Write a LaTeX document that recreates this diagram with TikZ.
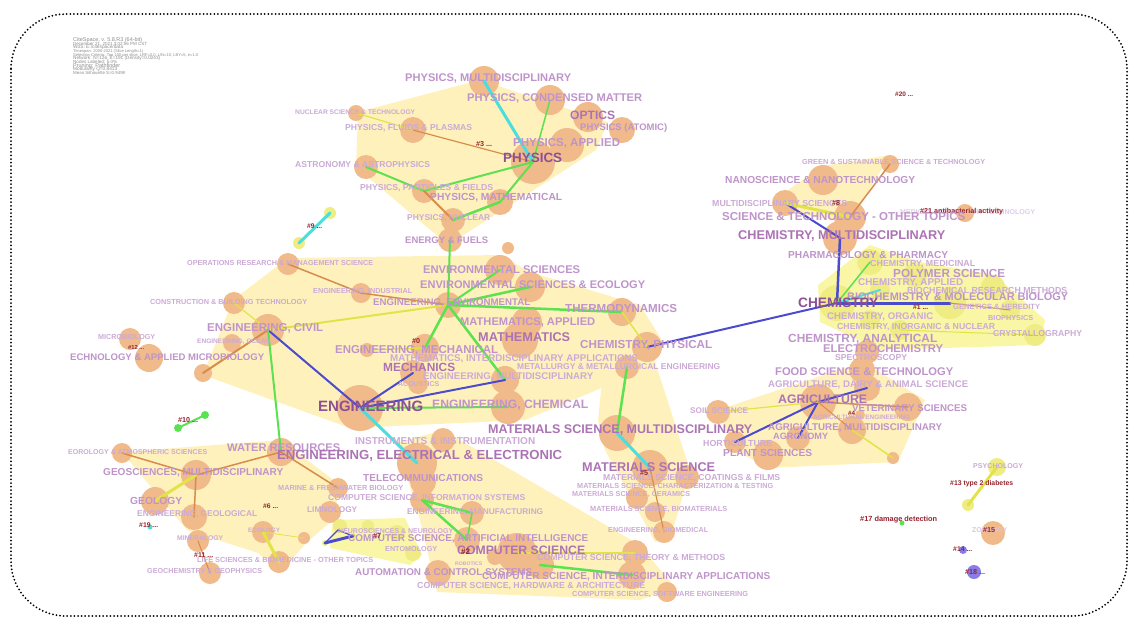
\documentclass[tikz,border=0pt]{standalone}
\usepackage{fontspec}
\usepackage{graphicx}
\newfontfamily\labfont{Liberation Sans}
\definecolor{nodeor}{RGB}{241,186,139}
\definecolor{nodeye}{RGB}{238,236,130}
\definecolor{nodebl}{RGB}{135,125,235}
\definecolor{hullye}{RGB}{255,241,188}
\definecolor{hullch}{RGB}{249,246,165}
\definecolor{labA}{RGB}{203,170,214}
\definecolor{labB}{RGB}{190,148,202}
\definecolor{labC}{RGB}{172,115,180}
\definecolor{labD}{RGB}{142,80,148}
\definecolor{clred}{RGB}{150,35,45}
\definecolor{egreen}{RGB}{90,226,80}
\definecolor{ecyan}{RGB}{75,222,222}
\definecolor{eblue}{RGB}{75,75,205}
\definecolor{eyellow}{RGB}{225,228,70}
\definecolor{eorange}{RGB}{215,140,75}
\newcommand{\fitw}[2]{\resizebox{#1pt}{!}{#2}}
\tikzset{
  bub/.style={circle,fill=nodeor,inner sep=0pt,minimum size=#1*2pt},
  ybub/.style={circle,fill=nodeye,inner sep=0pt,minimum size=#1*2pt},
  hull/.style={fill=hullye},
  lbl/.style={anchor=west,inner sep=0pt,font=\labfont\bfseries,text=labA},
  clu/.style={anchor=west,inner sep=0pt,font=\labfont\bfseries,text=clred},
  info/.style={anchor=west,inner sep=0pt,font=\labfont,text=black!45},
  lnk/.style={line width=#1pt,line cap=round},
}
\begin{document}
\begin{tikzpicture}[x=1pt,y=-1pt]
\useasboundingbox (0,0) rectangle (1134,625);
\draw[line width=2pt,line cap=round,dash pattern=on 0pt off 3.6pt,rounded corners=55pt] (11,14) rectangle (1127,616);

% run info
\node[info] (inf1) at (73,40) {\fitw{69}{CiteSpace, v. 5.8.R3 (64-bit)}};
\node[info] (inf2) at (73,44) {\fitw{74}{December 21, 2021 3:02:56 PM CST}};
\node[info] (inf3) at (73,47.5) {\fitw{50}{WoS: E:/citespace/data}};
\node[info] (inf4) at (73,51) {\fitw{70}{Timespan: 2000-2021 (Slice Length=1)}};
\node[info] (inf5) at (73,55) {\fitw{125}{Selection Criteria: Top 100 per slice, LRF=3.0, L/N=10, LBY=5, e=1.0}};
\node[info] (inf6) at (73,58.5) {\fitw{87}{Network: N=126, E=191 (Density=0.0243)}};
\node[info] (inf7) at (73,62) {\fitw{44}{Nodes Labeled: 5.0\%}};
\node[info] (inf8) at (73,66) {\fitw{47}{Pruning: Pathfinder}};
\node[info] (inf9) at (73,69.5) {\fitw{44}{Modularity Q=0.8413}};
\node[info] (inf10) at (73,73) {\fitw{52}{Mean Silhouette S=0.9498}};

% cluster hulls
\fill[hull] (358,112)--(480,80)--(608,122)--(596,150)--(448,245)--(356,167)--cycle;
\fill[hull] (203,375)--(233,300)--(288,258)--(500,255)--(530,272)--(640,305)--(665,345)--(640,372)--(525,420)--(350,428)--cycle;
\fill[hull] (610,305)--(636,303)--(690,470)--(670,540)--(655,542)--(605,450)--(598,420)--cycle;
\fill[hull] (397,443)--(443,430)--(640,545)--(675,588)--(640,600)--(437,592)--(420,520)--cycle;
\fill[hull] (122,452)--(281,440)--(340,485)--(333,520)--(307,542)--(281,572)--(258,553)--(187,530)--cycle;
\fill[hull] (718,410)--(863,362)--(925,400)--(898,462)--(768,468)--(735,450)--cycle;
\fill[hull] (785,192)--(823,166)--(890,155)--(850,222)--(785,212)--cycle;
\fill[hullch] (818,285)--(870,245)--(920,262)--(995,275)--(1045,320)--(1040,345)--(880,350)--(820,322)--cycle;
\fill[hullch] (333,520)--(405,518)--(422,555)--(410,565)--(330,548)--cycle;

% physics
\node[bub=15] (pMulti) at (484,81) {};
\node[bub=15] (pCond) at (550,100) {};
\node[bub=15] (pOpt) at (588,117) {};
\node[bub=13] (pAtom) at (622,130) {};
\node[bub=17] (pAppl) at (567,145) {};
\node[bub=22] (pPhys) at (533,162) {};
\node[bub=8] (pNucSci) at (356,113) {};
\node[bub=13] (pFluid) at (413,130) {};
\node[bub=12] (pAstro) at (366,167) {};
\node[bub=12] (pPart) at (424,191) {};
\node[bub=13] (pMath) at (500,202) {};
\node[bub=12] (pNuc) at (453,220) {};
\node[bub=12] (pEnergy) at (450,240) {};
\node[bub=6] (pSmall) at (508,248) {};
\node[ybub=6] (n9a) at (330,213) {};
\node[ybub=6] (n9b) at (299,243) {};

% engineering
\node[bub=11] (eOper) at (288,264) {};
\node[bub=10] (eInd) at (361,293) {};
\node[bub=11] (eCons) at (234,303) {};
\node[bub=16] (eCivil) at (268,330) {};
\node[bub=9] (eOcean) at (232,343) {};
\node[bub=11] (eMicro) at (130,339) {};
\node[bub=14] (eBiotech) at (149,358) {};
\node[bub=9] (eLow) at (203,373) {};
\node[bub=7] (eMechS) at (367,350) {};
\node[bub=15] (eEnvSci) at (500,270) {};
\node[bub=15] (eEco) at (530,287) {};
\node[bub=13] (eEnv) at (448,305) {};
\node[bub=14] (eThermo) at (622,312) {};
\node[bub=15] (eMathA) at (527,322) {};
\node[bub=18] (eMath) at (520,340) {};
\node[bub=15] (eChPhys) at (647,347) {};
\node[bub=12] (eMetal) at (627,367) {};
\node[bub=14] (eMecha) at (425,348) {};
\node[bub=13] (eMechs) at (413,373) {};
\node[bub=10] (eAcou) at (418,384) {};
\node[bub=14] (eMultiD) at (505,380) {};
\node[bub=23] (eEng) at (360,408) {};
\node[bub=17] (eChem) at (508,407) {};

% materials
\node[bub=18] (mMulti) at (617,433) {};
\node[bub=18] (mSci) at (650,468) {};
\node[bub=12] (mCoat) at (687,477) {};
\node[bub=11] (mCer) at (637,498) {};
\node[bub=10] (mBio) at (655,512) {};
\node[bub=11] (mBiomed) at (664,532) {};

% electrical and computer
\node[bub=20] (cElec) at (417,463) {};
\node[bub=12] (cInst) at (443,440) {};
\node[bub=13] (cTele) at (423,482) {};
\node[bub=12] (cInfo) at (422,500) {};
\node[bub=12] (cManu) at (472,513) {};
\node[bub=13] (cAI) at (467,540) {};
\node[bub=20] (cCS) at (517,553) {};
\node[bub=14] (cCS2) at (540,565) {};
\node[bub=8] (cRob) at (495,557) {};
\node[bub=13] (cAuto) at (438,573) {};
\node[bub=13] (cTheory) at (635,553) {};
\node[bub=14] (cInter) at (632,575) {};
\node[bub=10] (cSoft) at (667,592) {};

% geosciences
\node[bub=10] (gMet) at (122,453) {};
\node[bub=14] (gWater) at (281,452) {};
\node[bub=15] (gGeo) at (196,475) {};
\node[bub=14] (gGeol) at (155,501) {};
\node[bub=13] (gEngGeo) at (194,517) {};
\node[bub=10] (gMarine) at (338,488) {};
\node[bub=11] (gLimno) at (330,512) {};
\node[bub=11] (gEco) at (263,532) {};
\node[bub=6] (gSmall) at (304,538) {};
\node[bub=11] (gMin) at (198,541) {};
\node[bub=11] (gGeoch) at (210,573) {};
\node[bub=11] (gLife) at (279,562) {};

% neurosciences
\node[ybub=7] (n7d) at (340,526) {};
\node[ybub=6] (n7e) at (368,526) {};
\node[ybub=8] (n7f) at (397,533) {};
\node[ybub=8] (n7g) at (413,553) {};
\node[ybub=3] (n7a) at (325,543) {};
\node[ybub=3] (n7b) at (338,530) {};
\node[ybub=3] (n7c) at (353,536) {};

% chemistry
\node[bub=9] (hGreen) at (890,164) {};
\node[bub=15] (hNano) at (823,180) {};
\node[bub=13] (hMultiSci) at (785,203) {};
\node[bub=16] (hSciTech) at (850,217) {};
\node[bub=17] (hChemMulti) at (840,238) {};
\node[bub=9] (h21) at (965,213) {};
\node[ybub=13] (hMed) at (870,262) {};
\node[ybub=12] (hPoly) at (915,275) {};
\node[ybub=10] (hAppl) at (880,290) {};
\node[ybub=18] (hChem) at (837,303) {};
\node[ybub=16] (hBio) at (950,303) {};
\node[ybub=12] (hBRM) at (993,287) {};
\node[ybub=10] (hGen) at (1010,310) {};
\node[ybub=11] (hCryst) at (1035,335) {};
\node[ybub=10] (hOrg) at (870,320) {};
\node[ybub=10] (hInorg) at (900,330) {};
\node[bub=12] (hElectro) at (867,352) {};

% agriculture
\node[bub=13] (aFood) at (862,370) {};
\node[bub=13] (aDairy) at (867,388) {};
\node[bub=18] (aAgri) at (818,402) {};
\node[bub=14] (aVet) at (908,407) {};
\node[bub=12] (aSoil) at (718,412) {};
\node[bub=14] (aMulti) at (852,430) {};
\node[bub=5] (aEng) at (860,415) {};
\node[bub=11] (aHort) at (735,442) {};
\node[bub=12] (aAgro) at (798,438) {};
\node[bub=15] (aPlant) at (768,455) {};
\node[bub=6] (aSmall) at (893,458) {};

% small clusters
\node[ybub=9] (iPsy) at (997,467) {};
\node[ybub=6] (iDia) at (968,505) {};
\node[circle,fill=egreen,inner sep=0pt,minimum size=5pt] (iDam) at (902,523) {};
\node[bub=12] (i15) at (993,533) {};
\node[bub=4,fill=nodebl] (i14) at (963,550) {};
\node[bub=7,fill=nodebl] (i18) at (974,572) {};
\node[circle,fill=egreen,inner sep=0pt,minimum size=8pt] (i10a) at (178,428) {};
\node[circle,fill=egreen,inner sep=0pt,minimum size=8pt] (i10b) at (205,415) {};
\node[circle,fill=ecyan,inner sep=0pt,minimum size=5pt] (i19) at (150,527) {};

% links
\draw[lnk=3,ecyan] (pMulti.center)--(pPhys.center);
\draw[lnk=1.5,egreen] (pCond.center)--(pPhys.center);
\draw[lnk=1.2,eyellow] (pNucSci.center)--(pFluid.center);
\draw[lnk=1.2,eorange] (pFluid.center)--(pPhys.center);
\draw[lnk=2,egreen] (pAstro.center)--(pPart.center);
\draw[lnk=2,egreen] (pPart.center)--(pPhys.center);
\draw[lnk=2,egreen] (pPhys.center)--(pMath.center);
\draw[lnk=2.5,egreen] (pMath.center)--(pNuc.center);
\draw[lnk=2,eorange] (pPart.center)--(pNuc.center);
\draw[lnk=2,egreen] (pEnergy.center)--(eEnv.center);
\draw[lnk=3,ecyan] (n9a.center)--(n9b.center);
\draw[lnk=1.5,eorange] (eOper.center)--(eInd.center);
\draw[lnk=1.5,eorange] (eInd.center)--(eEnv.center);
\draw[lnk=1.2,eyellow] (eCons.center)--(eCivil.center);
\draw[lnk=2,eyellow] (eCivil.center)--(eEnv.center);
\draw[lnk=2,eorange] (eCivil.center)--(eLow.center);
\draw[lnk=2,eblue] (eCivil.center)--(eEng.center);
\draw[lnk=2,egreen] (eCivil.center)--(gWater.center);
\draw[lnk=2,egreen] (eEnv.center)--(eEnvSci.center);
\draw[lnk=2.5,egreen] (eEnv.center)--(eEco.center);
\draw[lnk=2.5,egreen] (eEnv.center)--(eThermo.center);
\draw[lnk=2.5,egreen] (eEnv.center)--(eMecha.center);
\draw[lnk=2.5,egreen] (eEnv.center)--(eMultiD.center);
\draw[lnk=1.2,eyellow] (eMechS.center)--(eMecha.center);
\draw[lnk=2,eblue] (eEng.center)--(eMechs.center);
\draw[lnk=2,eblue] (eEng.center)--(eMultiD.center);
\draw[lnk=2,egreen] (eEng.center)--(eChem.center);
\draw[lnk=3,ecyan] (eEng.center)--(cElec.center);
\draw[lnk=2,eblue] (eChPhys.center)--(hChem.center);
\draw[lnk=1.5,eyellow] (eThermo.center)--(eChPhys.center);
\draw[lnk=2.5,egreen] (eMetal.center)--(mMulti.center);
\draw[lnk=3,ecyan] (mMulti.center)--(mSci.center);
\draw[lnk=1.2,eorange] (mSci.center)--(mBiomed.center);
\draw[lnk=2.5,egreen] (cInfo.center)--(cManu.center);
\draw[lnk=2.5,egreen] (cInfo.center)--(cAI.center);
\draw[lnk=1.5,egreen] (cManu.center)--(cAI.center);
\draw[lnk=2.5,egreen] (cCS2.center)--(cInter.center);
\draw[lnk=1.5,eyellow] (cCS.center)--(cTheory.center);
\draw[lnk=1.5,eorange] (gMet.center)--(gGeo.center);
\draw[lnk=1.5,eorange] (gGeo.center)--(gWater.center);
\draw[lnk=1.5,eorange] (gWater.center)--(gMarine.center);
\draw[lnk=1.5,eorange] (gGeo.center)--(gEngGeo.center);
\draw[lnk=3,eyellow] (gGeol.center)--(gGeo.center);
\draw[lnk=3,eyellow] (gEco.center)--(gLife.center);
\draw[lnk=0.8,eyellow] (gEco.center)--(gSmall.center);
\draw[lnk=1,eorange] (gMin.center)--(gGeoch.center);
\draw[lnk=3,eblue] (n7a.center)--(n7c.center);
\draw[lnk=1.2,eblue] (n7a.center)--(n7b.center);
\draw[lnk=1.2,eblue] (n7b.center)--(n7c.center);
\draw[lnk=2,eblue] (hMultiSci.center)--(hChemMulti.center);
\draw[lnk=3,eyellow] (hMultiSci.center)--(hSciTech.center);
\draw[lnk=1.5,eorange] (hSciTech.center)--(hGreen.center);
\draw[lnk=2.5,eblue] (hChemMulti.center)--(hChem.center);
\draw[lnk=1.5,egreen] (hChem.center)--(hMed.center);
\draw[lnk=2,ecyan] (hChem.center)--(hAppl.center);
\draw[lnk=3,eblue] (hChem.center)--(hBio.center);
\draw[lnk=1,eorange] (hBio.center)--(hGen.center);
\draw[lnk=1,eyellow] (hInorg.center)--(hCryst.center);
\draw[lnk=2,eblue] (aAgri.center)--(aHort.center);
\draw[lnk=2,eblue] (aAgri.center)--(aAgro.center);
\draw[lnk=2,eblue] (aAgri.center)--(aDairy.center);
\draw[lnk=1.5,eorange] (aAgri.center)--(aVet.center);
\draw[lnk=1,eorange] (aAgri.center)--(aMulti.center);
\draw[lnk=1.2,eyellow] (aSoil.center)--(aAgri.center);
\draw[lnk=1.5,eyellow] (aMulti.center)--(aSmall.center);
\draw[lnk=3,eyellow] (iPsy.center)--(iDia.center);
\draw[lnk=2,egreen] (i10a.center)--(i10b.center);

% labels, physics
\node[lbl,text=labB] (lPMulti) at (405,78) {\fitw{166}{PHYSICS, MULTIDISCIPLINARY}};
\node[lbl,text=labB] (lPCond) at (467,98) {\fitw{175}{PHYSICS, CONDENSED MATTER}};
\node[lbl] (lNucSci) at (295,112) {\fitw{120}{NUCLEAR SCIENCE \& TECHNOLOGY}};
\node[lbl,text=labC] (lOpt) at (570,115) {\fitw{45}{OPTICS}};
\node[lbl] (lFluid) at (345,128) {\fitw{127}{PHYSICS, FLUIDS \& PLASMAS}};
\node[lbl,text=labB] (lAtom) at (580,128) {\fitw{87}{PHYSICS (ATOMIC)}};
\node[lbl,text=labB] (lPAppl) at (513,143) {\fitw{107}{PHYSICS, APPLIED}};
\node[clu] (c3) at (476,144) {\fitw{16}{\#3 ...}};
\node[lbl,text=labD] (lPhys) at (503,158) {\fitw{59}{PHYSICS}};
\node[lbl] (lAstro) at (295,165) {\fitw{135}{ASTRONOMY \& ASTROPHYSICS}};
\node[lbl] (lPart) at (360,188) {\fitw{133}{PHYSICS, PARTICLES \& FIELDS}};
\node[lbl,text=labB] (lPMath) at (430,198) {\fitw{132}{PHYSICS, MATHEMATICAL}};
\node[lbl] (lPNuc) at (407,218) {\fitw{83}{PHYSICS, NUCLEAR}};
\node[lbl,text=labB] (lEnergy) at (405,240) {\fitw{83}{ENERGY \& FUELS}};
\node[clu] (c9) at (307,226) {\fitw{15}{\#9 ...}};
\node[clu] (c20) at (895,94) {\fitw{18}{\#20 ...}};

% labels, engineering
\node[lbl] (lOper) at (187,263) {\fitw{186}{OPERATIONS RESEARCH \& MANAGEMENT SCIENCE}};
\node[lbl,text=labB] (lEnvSci) at (423,270) {\fitw{157}{ENVIRONMENTAL SCIENCES}};
\node[lbl,text=labB] (lEco) at (420,285) {\fitw{225}{ENVIRONMENTAL SCIENCES \& ECOLOGY}};
\node[lbl] (lInd) at (313,292) {\fitw{99}{ENGINEERING, INDUSTRIAL}};
\node[lbl] (lCons) at (150,302) {\fitw{157}{CONSTRUCTION \& BUILDING TECHNOLOGY}};
\node[lbl,text=labB] (lEnv) at (373,303) {\fitw{157}{ENGINEERING, ENVIRONMENTAL}};
\node[lbl,text=labB] (lThermo) at (565,309) {\fitw{112}{THERMODYNAMICS}};
\node[lbl,text=labB] (lCivil) at (207,328) {\fitw{116}{ENGINEERING, CIVIL}};
\node[lbl,text=labB] (lMathA) at (460,322) {\fitw{135}{MATHEMATICS, APPLIED}};
\node[lbl] (lMicro) at (98,337) {\fitw{57}{MICROBIOLOGY}};
\node[lbl] (lOcean) at (197,342) {\fitw{73}{ENGINEERING, OCEAN}};
\node[clu] (c12) at (128,347) {\fitw{16}{\#12 ...}};
\node[lbl,text=labC] (lMath) at (478,337) {\fitw{92}{MATHEMATICS}};
\node[lbl,text=labB] (lChPhys) at (580,345) {\fitw{132}{CHEMISTRY, PHYSICAL}};
\node[lbl,text=labB] (lMecha) at (335,350) {\fitw{163}{ENGINEERING, MECHANICAL}};
\node[clu] (c0) at (412,341) {\fitw{8}{\#0}};
\node[lbl,text=labB] (lBiotech) at (70,357) {\fitw{194}{ECHNOLOGY \& APPLIED MICROBIOLOGY}};
\node[lbl] (lMathI) at (390,359) {\fitw{248}{MATHEMATICS, INTERDISCIPLINARY APPLICATIONS}};
\node[lbl] (lMetal) at (517,367) {\fitw{203}{METALLURGY \& METALLURGICAL ENGINEERING}};
\node[lbl,text=labC] (lMechs) at (383,367) {\fitw{72}{MECHANICS}};
\node[lbl] (lMultiD) at (423,377) {\fitw{170}{ENGINEERING, MULTIDISCIPLINARY}};
\node[lbl] (lAcou) at (398,384) {\fitw{41}{ACOUSTICS}};
\node[lbl,text=labD] (lEng) at (318,406) {\fitw{105}{ENGINEERING}};
\node[lbl,text=labB] (lChem) at (432,405) {\fitw{156}{ENGINEERING, CHEMICAL}};
\node[clu] (c10) at (178,420) {\fitw{20}{\#10 ...}};

% labels, materials and computing
\node[lbl] (lSoil) at (690,411) {\fitw{58}{SOIL SCIENCE}};
\node[lbl,text=labC] (lMMulti) at (488,430) {\fitw{264}{MATERIALS SCIENCE, MULTIDISCIPLINARY}};
\node[lbl] (lInst) at (355,441) {\fitw{180}{INSTRUMENTS \& INSTRUMENTATION}};
\node[lbl,text=labB] (lWater) at (227,448) {\fitw{113}{WATER RESOURCES}};
\node[lbl,text=labC] (lElec) at (277,456) {\fitw{285}{ENGINEERING, ELECTRICAL \& ELECTRONIC}};
\node[lbl] (lMet) at (68,452) {\fitw{139}{EOROLOGY \& ATMOSPHERIC SCIENCES}};
\node[lbl,text=labC] (lMSci) at (582,467) {\fitw{133}{MATERIALS SCIENCE}};
\node[clu] (c5) at (640,473) {\fitw{8}{\#5}};
\node[lbl,text=labB] (lGeo) at (103,473) {\fitw{180}{GEOSCIENCES, MULTIDISCIPLINARY}};
\node[lbl,text=labB] (lTele) at (363,478) {\fitw{120}{TELECOMMUNICATIONS}};
\node[lbl] (lCoat) at (603,478) {\fitw{177}{MATERIALS SCIENCE, COATINGS \& FILMS}};
\node[lbl] (lMarine) at (278,488) {\fitw{125}{MARINE \& FRESHWATER BIOLOGY}};
\node[lbl] (lChar) at (577,487) {\fitw{196}{MATERIALS SCIENCE, CHARACTERIZATION \& TESTING}};
\node[lbl] (lCer) at (572,495) {\fitw{118}{MATERIALS SCIENCE, CERAMICS}};
\node[lbl] (lInfo) at (328,498) {\fitw{197}{COMPUTER SCIENCE, INFORMATION SYSTEMS}};
\node[lbl,text=labB] (lGeol) at (130,501) {\fitw{52}{GEOLOGY}};
\node[clu] (c6) at (263,506) {\fitw{15}{\#6 ...}};
\node[lbl] (lBioM) at (590,509) {\fitw{137}{MATERIALS SCIENCE, BIOMATERIALS}};
\node[lbl] (lLimno) at (307,510) {\fitw{50}{LIMNOLOGY}};
\node[lbl] (lManu) at (407,512) {\fitw{136}{ENGINEERING, MANUFACTURING}};
\node[lbl] (lEngGeo) at (137,514) {\fitw{120}{ENGINEERING, GEOLOGICAL}};
\node[clu] (c19) at (139,525) {\fitw{19}{\#19 ...}};
\node[lbl] (lEcol) at (248,530) {\fitw{32}{ECOLOGY}};
\node[lbl] (lBiomed) at (608,531) {\fitw{100}{ENGINEERING, BIOMEDICAL}};
\node[lbl] (lNeuro) at (338,531) {\fitw{115}{NEUROSCIENCES \& NEUROLOGY}};
\node[lbl] (lMin) at (177,538) {\fitw{46}{MINERALOGY}};
\node[lbl,text=labB] (lAI) at (348,539) {\fitw{240}{COMPUTER SCIENCE, ARTIFICIAL INTELLIGENCE}};
\node[clu] (c7) at (373,536) {\fitw{8}{\#7}};
\node[lbl] (lEnto) at (385,549) {\fitw{52}{ENTOMOLOGY}};
\node[lbl,text=labC] (lCS) at (457,550) {\fitw{128}{COMPUTER SCIENCE}};
\node[clu] (c2) at (461,552) {\fitw{9}{\#2}};
\node[clu] (c11) at (194,555) {\fitw{19}{\#11 ...}};
\node[lbl] (lTheory) at (537,558) {\fitw{188}{COMPUTER SCIENCE, THEORY \& METHODS}};
\node[lbl] (lLife) at (197,560) {\fitw{176}{LIFE SCIENCES \& BIOMEDICINE - OTHER TOPICS}};
\node[lbl] (lRob) at (455,564) {\fitw{27}{ROBOTICS}};
\node[lbl] (lGeoch) at (147,571) {\fitw{115}{GEOCHEMISTRY \& GEOPHYSICS}};
\node[lbl,text=labB] (lAuto) at (355,572) {\fitw{177}{AUTOMATION \& CONTROL SYSTEMS}};
\node[lbl,text=labB] (lInter) at (482,577) {\fitw{288}{COMPUTER SCIENCE, INTERDISCIPLINARY APPLICATIONS}};
\node[lbl] (lHard) at (417,586) {\fitw{228}{COMPUTER SCIENCE, HARDWARE \& ARCHITECTURE}};
\node[lbl] (lSoft) at (572,594) {\fitw{176}{COMPUTER SCIENCE, SOFTWARE ENGINEERING}};

% labels, chemistry
\node[lbl] (lGreen) at (802,162) {\fitw{183}{GREEN \& SUSTAINABLE SCIENCE \& TECHNOLOGY}};
\node[lbl,text=labB] (lNano) at (725,180) {\fitw{190}{NANOSCIENCE \& NANOTECHNOLOGY}};
\node[lbl] (lMultiSci) at (712,203) {\fitw{135}{MULTIDISCIPLINARY SCIENCES}};
\node[clu] (c8) at (832,203) {\fitw{8}{\#8}};
\node[lbl,text=labA!60] (lMedLab) at (900,212) {\fitw{135}{MEDICAL LABORATORY TECHNOLOGY}};
\node[clu] (c21) at (920,212) {\fitw{83}{\#21 antibacterial activity}};
\node[lbl,text=labB] (lSciTech) at (722,217) {\fitw{243}{SCIENCE \& TECHNOLOGY - OTHER TOPICS}};
\node[lbl,text=labC] (lChemMulti) at (738,236) {\fitw{207}{CHEMISTRY, MULTIDISCIPLINARY}};
\node[lbl,text=labB] (lPharm) at (788,255) {\fitw{160}{PHARMACOLOGY \& PHARMACY}};
\node[lbl] (lMed) at (870,264) {\fitw{105}{CHEMISTRY, MEDICINAL}};
\node[lbl,text=labB] (lPoly) at (893,273) {\fitw{112}{POLYMER SCIENCE}};
\node[lbl] (lAppl) at (858,283) {\fitw{105}{CHEMISTRY, APPLIED}};
\node[lbl] (lBRM) at (907,290) {\fitw{160}{BIOCHEMICAL RESEARCH METHODS}};
\node[lbl,text=labB] (lBio) at (847,297) {\fitw{221}{BIOCHEMISTRY \& MOLECULAR BIOLOGY}};
\node[lbl,text=labD] (lChemi) at (798,303) {\fitw{80}{CHEMISTRY}};
\node[clu] (c1) at (913,307) {\fitw{15}{\#1 ...}};
\node[lbl] (lGen) at (953,307) {\fitw{87}{GENETICS \& HEREDITY}};
\node[lbl] (lOrg) at (827,317) {\fitw{106}{CHEMISTRY, ORGANIC}};
\node[lbl] (lBiophys) at (988,318) {\fitw{45}{BIOPHYSICS}};
\node[lbl] (lInorg) at (837,327) {\fitw{158}{CHEMISTRY, INORGANIC \& NUCLEAR}};
\node[lbl] (lCryst) at (993,334) {\fitw{89}{CRYSTALLOGRAPHY}};
\node[lbl,text=labB] (lAnal) at (788,339) {\fitw{149}{CHEMISTRY, ANALYTICAL}};
\node[lbl,text=labB] (lElectro) at (823,349) {\fitw{120}{ELECTROCHEMISTRY}};
\node[lbl] (lSpec) at (835,358) {\fitw{72}{SPECTROSCOPY}};

% labels, agriculture
\node[lbl,text=labB] (lFood) at (775,372) {\fitw{178}{FOOD SCIENCE \& TECHNOLOGY}};
\node[lbl] (lDairy) at (768,385) {\fitw{200}{AGRICULTURE, DAIRY \& ANIMAL SCIENCE}};
\node[lbl,text=labC] (lAgri) at (778,399) {\fitw{89}{AGRICULTURE}};
\node[lbl,text=labB] (lVet) at (852,408) {\fitw{115}{VETERINARY SCIENCES}};
\node[clu] (c4) at (848,413) {\fitw{7}{\#4}};
\node[lbl] (lAEng) at (813,417) {\fitw{97}{AGRICULTURAL ENGINEERING}};
\node[lbl,text=labB] (lAMulti) at (768,428) {\fitw{174}{AGRICULTURE, MULTIDISCIPLINARY}};
\node[lbl,text=labB] (lAgro) at (773,436) {\fitw{55}{AGRONOMY}};
\node[lbl] (lHort) at (703,443) {\fitw{69}{HORTICULTURE}};
\node[lbl,text=labB] (lPlant) at (723,453) {\fitw{89}{PLANT SCIENCES}};

% labels, small clusters
\node[lbl] (lPsy) at (973,466) {\fitw{50}{PSYCHOLOGY}};
\node[clu] (c13) at (950,484) {\fitw{63}{\#13 type 2 diabetes}};
\node[clu] (c17) at (860,520) {\fitw{77}{\#17 damage detection}};
\node[lbl,text=labA!70] (lZoo) at (972,530) {\fitw{35}{ZOOLOGY}};
\node[clu] (c15) at (983,530) {\fitw{12}{\#15}};
\node[clu] (c14) at (953,549) {\fitw{19}{\#14 ...}};
\node[clu] (c18) at (965,572) {\fitw{20}{\#18 ...}};
\end{tikzpicture}
\end{document}
